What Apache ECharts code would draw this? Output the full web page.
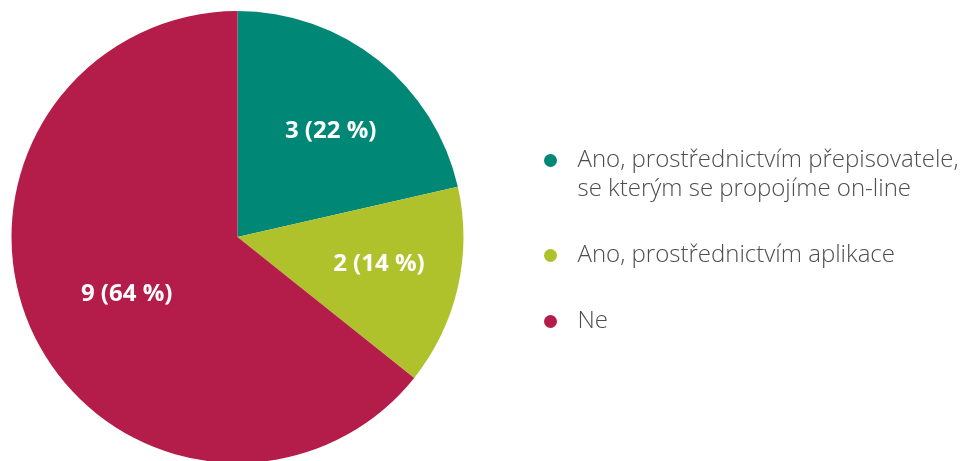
<!DOCTYPE html>
<html>
<head>
<meta charset="utf-8">
<script src="https://cdn.jsdelivr.net/npm/echarts@6/dist/echarts.min.js"></script>
<style>
html,body{margin:0;padding:0;background:#fff;}
#c{width:962px;height:461px;}
</style>
</head>
<body>
<div id="c"></div>
<script>
var categories = ['Ano, prostřednictvím přepisovatele,\nse kterým se propojíme on-line', 'Ano, prostřednictvím aplikace', 'Ne'];
var values = [3, 2, 9];
var percents = [22, 14, 64];
var colors = ['#008775', '#AFC22C', '#B41C4A'];

var chart = echarts.init(document.getElementById('c'));
var pieData = categories.map(function (c, i) {
  return { name: c, value: values[i], itemStyle: { color: colors[i] } };
});
var labelOffsets = [[4, 6], [2, -5], [18, -5]];
var labelData = categories.map(function (c, i) {
  return { name: c, value: values[i], label: { offset: labelOffsets[i] } };
});
chart.setOption({
  animation: false,
  legend: {
    orient: 'vertical',
    left: 544,
    top: 117,
    padding: 0,
    icon: 'circle',
    itemWidth: 44,
    itemHeight: 13,
    itemGap: 37,
    textStyle: { fontFamily: 'Open Sans', fontSize: 24, fontWeight: 300, color: '#4d4d4d', lineHeight: 29 },
    formatter: function (name) {
      return name.indexOf('\n') >= 0 ? '\n' + name : name;
    },
    data: categories
  },
  series: [
    {
      type: 'pie',
      center: [237.5, 237],
      radius: [0, 226],
      startAngle: 90,
      clockwise: true,
      silent: true,
      label: { show: false },
      labelLine: { show: false },
      itemStyle: { borderWidth: 0 },
      data: pieData
    },
    {
      type: 'pie',
      center: [237.5, 237],
      radius: [54, 226],
      startAngle: 90,
      clockwise: true,
      silent: true,
      itemStyle: { color: 'rgba(0,0,0,0)', borderWidth: 0 },
      label: {
        show: true,
        position: 'inside',
        color: '#fff',
        fontFamily: 'Open Sans',
        fontWeight: 'bold',
        fontSize: 24,
        formatter: function (p) { return p.value + ' (' + percents[p.dataIndex] + ' %)'; }
      },
      labelLine: { show: false },
      data: labelData
    }
  ]
});
</script>
</body>
</html>
